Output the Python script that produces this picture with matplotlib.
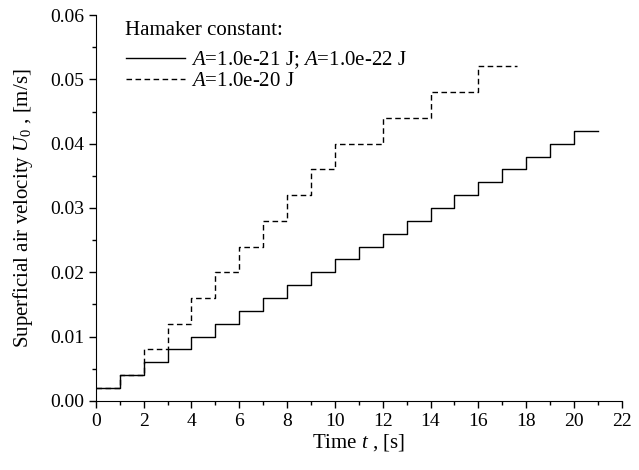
import matplotlib
matplotlib.use("Agg")
import matplotlib.pyplot as plt
from matplotlib.ticker import MultipleLocator

plt.rcParams['font.family'] = ['Liberation Serif', 'DejaVu Serif']
plt.rcParams['mathtext.fontset'] = 'custom'
plt.rcParams['mathtext.rm'] = 'Liberation Serif'
plt.rcParams['mathtext.it'] = 'Liberation Serif:italic'

# Solid: A=1.0e-21 J; A=1.0e-22 J (step edges and levels)
solid_t = [0, 1, 2, 3, 4, 5, 6, 7, 8, 9, 10, 11, 12, 13, 14, 15, 16, 17, 18, 19, 20, 21]
solid_u = [0.002, 0.004, 0.006, 0.008, 0.010, 0.012, 0.014, 0.016, 0.018, 0.020,
           0.022, 0.024, 0.026, 0.028, 0.030, 0.032, 0.034, 0.036, 0.038, 0.040, 0.042, 0.042]

# Dashed: A=1.0e-20 J
dash_t = [0, 1, 2, 3, 4, 5, 6, 7, 8, 9, 10, 12, 14, 16, 17.6]
dash_u = [0.002, 0.004, 0.008, 0.012, 0.016, 0.020, 0.024, 0.028, 0.032, 0.036,
          0.040, 0.044, 0.048, 0.052, 0.052]

fig = plt.figure(figsize=(6.39, 4.70), dpi=100)
ax = fig.add_axes([0.150, 0.147, 0.823, 0.821])

ax.step(solid_t, solid_u, where='post', color='black', lw=1.0,
        label=r'$A$=1.0e-21 J; $A$=1.0e-22 J')
ax.step(dash_t, dash_u, where='post', color='black', lw=1.0, ls=(0, (4, 2.5)),
        label=r'$A$=1.0e-20 J')

ax.set_xlim(0, 22)
ax.set_ylim(0, 0.06)
ax.xaxis.set_major_locator(MultipleLocator(2))
ax.xaxis.set_minor_locator(MultipleLocator(1))
ax.yaxis.set_major_locator(MultipleLocator(0.01))
ax.yaxis.set_minor_locator(MultipleLocator(0.005))
ax.yaxis.set_major_formatter(plt.FuncFormatter(lambda v, p: f'{v:.2f}'))
ax.spines['top'].set_visible(False)
ax.spines['right'].set_visible(False)
ax.tick_params(which='major', direction='out', length=5, width=1, labelsize=14)
ax.tick_params(which='minor', direction='out', length=3, width=1)

ax.set_xlabel(r'Time $t$ , [s]', fontsize=15, labelpad=2)
ax.set_ylabel(r'Superficial air velocity $U_0$ , [m/s]', fontsize=15, labelpad=11)

ax.text(0.055, 0.961, 'Hamaker constant:', transform=ax.transAxes,
        fontsize=15, ha='left', va='center')
leg = ax.legend(loc='upper left', frameon=False,
                fontsize=15, bbox_to_anchor=(0.03, 0.948),
                handlelength=2.8, handletextpad=0.3, labelspacing=0.0,
                borderaxespad=0.3)

fig.savefig('out.png', dpi=100)
